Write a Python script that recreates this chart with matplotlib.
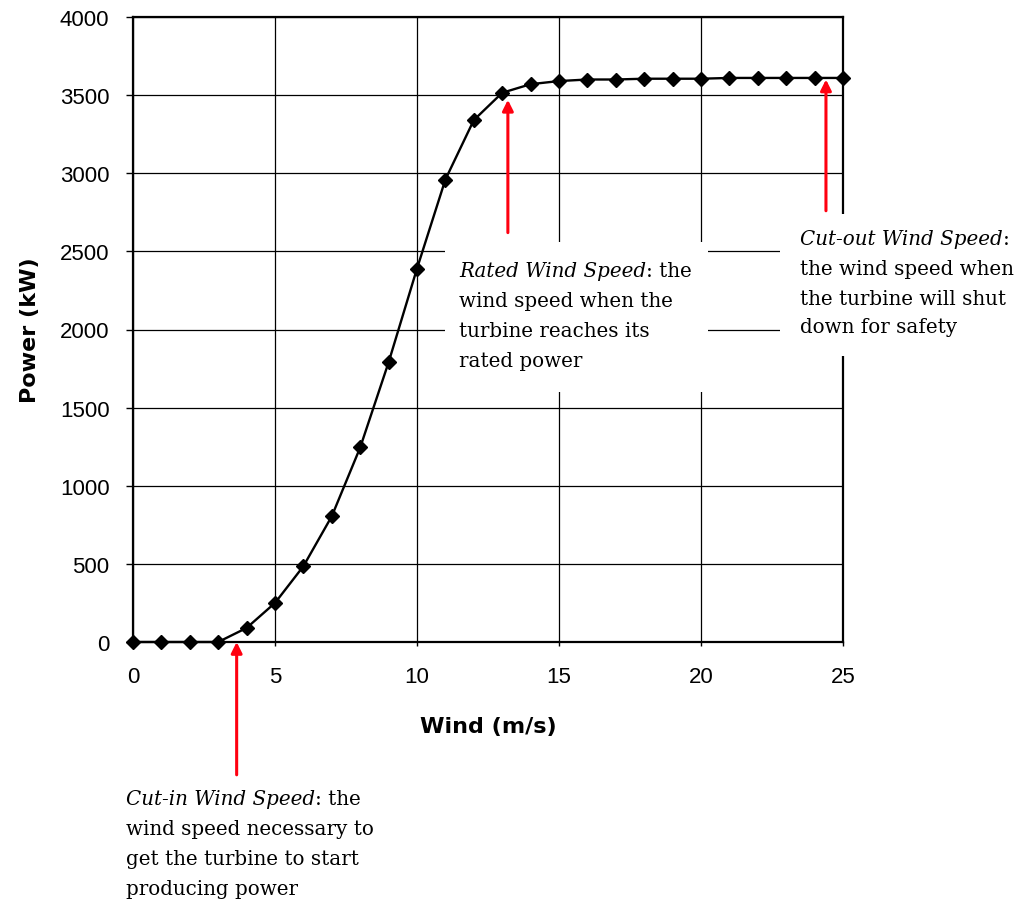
import matplotlib
matplotlib.use("Agg")
import matplotlib.pyplot as plt
from matplotlib.patches import Rectangle
from matplotlib.text import Annotation

wind = list(range(26))
power = [0, 0, 0, 0, 90, 250, 485, 805, 1245, 1790, 2390, 2960, 3340, 3515,
         3570, 3590, 3600, 3600, 3605, 3605, 3605, 3610, 3610, 3610, 3610, 3610]

x_ticks = [0, 5, 10, 15, 20, 25]
y_ticks = [0, 500, 1000, 1500, 2000, 2500, 3000, 3500, 4000]

# arrow x position, tail y, tip y (data units)
cut_in = (3.65, -850, 0)
rated = (13.2, 2620, 3470)
cut_out = (24.4, 2760, 3600)

W, H = 1016, 903
sans = "Liberation Sans"
sans_bold = "DejaVu Sans"
serif = "DejaVu Serif"
note_size = 14.3

fig = plt.figure(figsize=(W / 100, H / 100), dpi=100)
ax = fig.add_axes([133 / W, 1 - 643 / H, 710 / W, 625 / H])

ax.plot(wind, power, color="black", lw=1.7, marker="D", markersize=7.5,
        clip_on=False, zorder=5)

ax.set_xlim(0, 25)
ax.set_ylim(0, 4000)
ax.set_xticks(x_ticks)
ax.set_yticks(y_ticks)
ax.grid(True, color="black", lw=0.9)
ax.set_axisbelow(True)
for s in ax.spines.values():
    s.set_linewidth(1.6)

ax.tick_params(axis="y", length=5, width=1, pad=12, labelsize=16)
ax.tick_params(axis="x", length=3, width=1, pad=14, labelsize=16)
for lab in ax.get_xticklabels() + ax.get_yticklabels():
    lab.set_fontfamily(sans)

ax.set_xlabel("Wind (m/s)", fontfamily=sans_bold, fontsize=16,
              fontweight="bold", labelpad=21)
ax.set_ylabel("Power (kW)", fontfamily=sans_bold, fontsize=16,
              fontweight="bold", labelpad=14)

for ax_x, tail, tip in [cut_in, rated, cut_out]:
    ax.annotate("", xy=(ax_x, tip), xytext=(ax_x, tail),
                arrowprops=dict(arrowstyle="-|>", color="#ff0010", lw=2.2,
                                mutation_scale=16, shrinkA=0, shrinkB=0),
                annotation_clip=False)

# white boxes behind the notes (pixel boxes: left, top, right, bottom)
for l, t, r, b in [(445, 243, 708, 393), (780, 215, 1016, 357)]:
    fig.add_artist(Rectangle((l / W, 1 - b / H), (r - l) / W, (b - t) / H,
                             transform=fig.transFigure, facecolor="white",
                             edgecolor="none", zorder=2))


def note(left, baselines, head, rest, lines):
    x = left / W
    t = fig.text(x, 1 - baselines[0] / H, head, fontfamily=serif,
                 fontstyle="italic", fontsize=note_size, va="baseline",
                 zorder=3)
    tail = Annotation(rest, xy=(1, 0), xycoords=t, va="bottom", ha="left",
                      fontfamily=serif, fontsize=note_size)
    tail.set_zorder(3)
    fig.add_artist(tail)
    for yb, line in zip(baselines[1:], lines):
        fig.text(x, 1 - yb / H, line, fontfamily=serif, fontsize=note_size,
                 va="baseline", zorder=3)


note(459, [277, 307, 337, 367], "Rated Wind Speed", ": the",
     ["wind speed when the", "turbine reaches its", "rated power"])
note(800, [245, 275, 305, 333], "Cut-out Wind Speed", ":",
     ["the wind speed when", "the turbine will shut", "down for safety"])
note(126, [805, 835, 865, 895], "Cut-in Wind Speed", ": the",
     ["wind speed necessary to", "get the turbine to start", "producing power"])

fig.savefig("out.png", dpi=100, facecolor="white")
